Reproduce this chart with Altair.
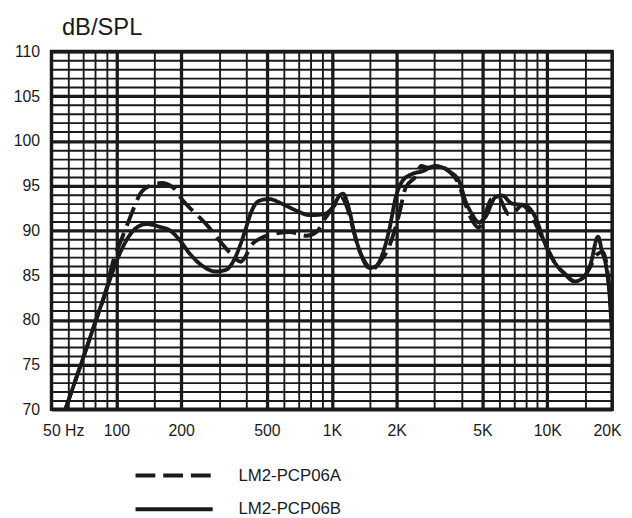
import altair as alt
import pandas as pd

# ---- data ----
freq_a = [58, 70, 80, 90, 97, 106, 116, 120, 129, 143, 162, 183, 204, 226, 261, 300, 340, 378,
          400, 419, 466, 536, 638, 763, 847, 941, 1045, 1110, 1180, 1260, 1340, 1450, 1540, 1650,
          1845, 2053, 2203, 2447, 2600, 2800, 3120, 3500, 3880, 4160, 4460, 4800, 5100, 5500,
          5950, 6380, 6610, 7000, 7640, 8200, 9120, 10100, 10900, 12000, 13400, 14800, 15900,
          17000, 18100, 18900, 19900]
spl_a = [70, 75.7, 79.8, 83.5, 86.7, 89.1, 91.5, 92.4, 94.1, 95.0, 95.3, 94.8, 93.3, 92.2, 90.7,
         88.9, 87.4, 86.5, 87.2, 88.2, 89.1, 89.6, 89.8, 89.4, 89.8, 91.5, 93.0, 93.6, 92.5, 90.0,
         87.8, 86.2, 85.6, 86.3, 88.2, 91.8, 94.8, 96.0, 97.2, 97.0, 97.2, 96.6, 95.2, 93.0, 91.2,
         90.3, 91.5, 93.5, 93.7, 92.3, 91.8, 92.0, 92.8, 92.2, 90.0, 87.8, 86.3, 85.2, 84.3, 84.8,
         86.0, 87.3, 87.6, 86.0, 80.0]

freq_b = [58, 70, 80, 90, 100, 112, 124, 138, 159, 177, 197, 219, 252, 290, 323, 350, 375, 400,
          425, 460, 510, 596, 686, 790, 911, 1013, 1087, 1127, 1207, 1275, 1343, 1496, 1605, 1721,
          1845, 1981, 2124, 2360, 2627, 3033, 3497, 3897, 4170, 4480, 4808, 5163, 5740, 6165,
          6855, 7910, 8790, 9770, 10900, 12000, 13400, 14800, 15900, 17200, 17900, 18900, 19500,
          20000]
spl_b = [70, 75.7, 79.8, 83.4, 86.5, 89.0, 90.3, 90.7, 90.4, 90.0, 88.9, 87.4, 86.0, 85.4, 85.6,
         86.6, 88.3, 90.3, 92.2, 93.3, 93.5, 92.9, 92.2, 91.7, 91.8, 92.6, 93.9, 94.1, 92.2, 89.6,
         87.8, 85.8, 86.0, 87.4, 90.0, 93.7, 95.5, 96.3, 96.6, 97.2, 96.6, 95.5, 93.3, 91.8, 90.9,
         91.5, 93.7, 93.9, 93.0, 92.8, 91.5, 88.5, 86.3, 85.2, 84.3, 84.8, 86.3, 89.3, 87.8, 85.5,
         82.5, 77.8]

series_names = ["LM2-PCP06A", "LM2-PCP06B"]

x_grid = [50, 60, 70, 80, 90, 100, 150, 200, 300, 400, 500, 600, 700, 800, 900, 1000, 1500,
          2000, 3000, 4000, 5000, 6000, 7000, 8000, 9000, 10000, 15000, 20000]
x_major = [100, 200, 500, 1000, 2000, 5000, 10000]
x_label_vals = [50, 100, 200, 500, 1000, 2000, 5000, 10000, 20000]
x_label_txt = ["50 Hz", "100", "200", "500", "1K", "2K", "5K", "10K", "20K"]
y_grid = list(range(70, 111))

df = pd.DataFrame(
    {"freq": freq_a + freq_b,
     "spl": spl_a + spl_b,
     "series": [series_names[0]] * len(freq_a) + [series_names[1]] * len(freq_b)}
)

label_expr = " : ".join(
    f"datum.value == {v} ? '{t}'" for v, t in zip(x_label_vals, x_label_txt)
) + " : ''"
major_test = "indexof([" + ",".join(str(v) for v in x_major) + "], datum.value) >= 0"

FONT = "Liberation Sans"
INK = "#1a1a1a"

chart = alt.Chart(df).mark_line(
    strokeWidth=3.9, interpolate="monotone", clip=True, color=INK
).encode(
    x=alt.X("freq:Q",
            scale=alt.Scale(type="log", domain=[50, 20000], nice=False),
            axis=alt.Axis(values=x_grid, labelExpr=label_expr, title=None,
                          domain=False, ticks=False, labelPadding=13,
                          labelFlush=True, labelFlushOffset=9,
                          labelFont=FONT, labelFontSize=16, labelColor=INK,
                          labelOverlap=False,
                          grid=True, gridColor=INK,
                          gridWidth={"condition": {"test": major_test, "value": 3.3}, "value": 1.9})),
    y=alt.Y("spl:Q",
            scale=alt.Scale(domain=[70, 110], nice=False, zero=False),
            axis=alt.Axis(values=y_grid,
                          labelExpr="datum.value % 5 == 0 ? datum.label : ''",
                          title="dB/SPL", titleAngle=0, titleX=10, titleY=-17,
                          titleAlign="left", titleBaseline="alphabetic",
                          titleFont=FONT, titleFontSize=24, titleFontWeight="normal",
                          titleColor=INK,
                          domain=False, ticks=False, labelPadding=12,
                          labelFont=FONT, labelFontSize=16, labelColor=INK,
                          labelOverlap=False,
                          grid=True, gridColor=INK,
                          gridWidth={"condition": {"test": "datum.value % 5 == 0", "value": 3.3}, "value": 1.9})),
    strokeDash=alt.StrokeDash(
        "series:N",
        scale=alt.Scale(domain=series_names, range=[[20, 8], [1, 0]]),
        legend=alt.Legend(title=None, orient="none", legendX=107, legendY=412,
                          symbolType="M-2.6,0H2.6", symbolSize=900,
                          symbolStrokeWidth=4, symbolStrokeColor=INK,
                          labelOffset=48, rowPadding=9,
                          labelFont=FONT, labelFontSize=17, labelColor=INK)),
).properties(
    width=567, height=362,
    autosize=alt.AutoSizeParams(type="none"),
    padding={"left": 44, "top": 41, "right": 12, "bottom": 109},
).configure_view(
    stroke=INK, strokeWidth=3.5
)

chart.save("out.html", embed_options={"renderer": "svg", "actions": False})
